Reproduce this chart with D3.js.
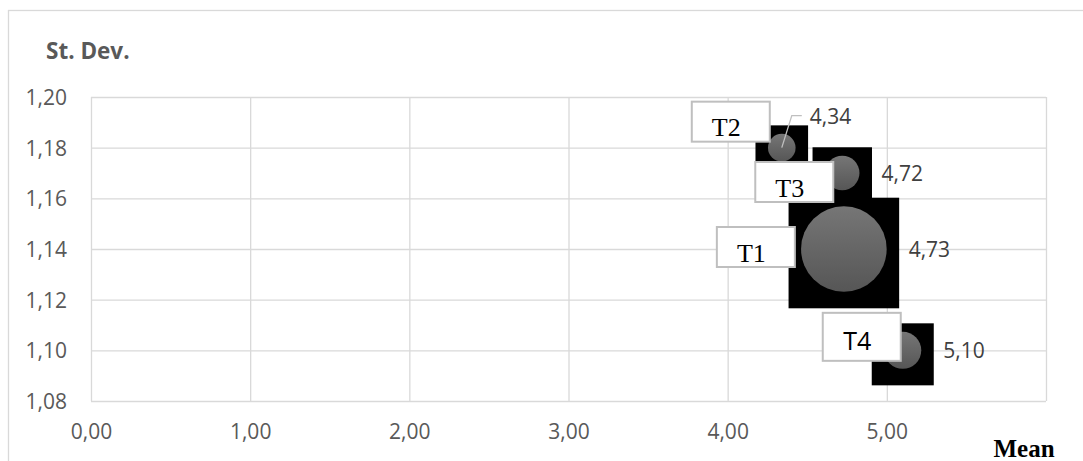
<!DOCTYPE html>
<html>
<head>
<meta charset="utf-8">
<script src="https://cdn.jsdelivr.net/npm/d3@7"></script>
<style>
  html, body { margin: 0; padding: 0; background: #fff; }
  svg { display: block; }
</style>
</head>
<body>
<svg id="chart" width="1083" height="461"></svg>
<script>
// ---- data ----
const names = ["T1", "T2", "T3", "T4"];
const means = [4.73, 4.34, 4.72, 5.10];
const stdevs = [1.14, 1.18, 1.17, 1.10];
const sizes = [100, 10.4, 16.2, 18.7];
const valueLabels = ["4,73", "4,34", "4,72", "5,10"];
const xTickValues = [0, 1, 2, 3, 4, 5, 6];
const xTickLabels = ["0,00", "1,00", "2,00", "3,00", "4,00", "5,00", ""];
const yTickValues = [1.08, 1.10, 1.12, 1.14, 1.16, 1.18, 1.20];
const yTickLabels = ["1,08", "1,10", "1,12", "1,14", "1,16", "1,18", "1,20"];

// ---- layout (label box offsets relative to bubble centre) ----
const labelLayout = {
  T1: { dx: -88, dy: -2, h: 40, serif: true },
  T2: { dx: -51, dy: -26, h: 40, serif: true },
  T3: { dx: -48, dy: 9, h: 40, serif: true },
  T4: { dx: -41, dy: -13.5, h: 48, serif: false }
};

const svg = d3.select("#chart");
const plot = { left: 91, right: 1046, top: 97, bottom: 401 };

const x = d3.scaleLinear().domain([0, 6]).range([plot.left, plot.right]);
const y = d3.scaleLinear().domain([1.08, 1.20]).range([plot.bottom, plot.top]);
const r = d3.scaleSqrt().domain([0, d3.max(sizes)]).range([0, 42.8]);

const sans = "'Open Sans', 'Liberation Sans', sans-serif";
const serif = "'Liberation Serif', 'Times New Roman', serif";
const grid = "#d9d9d9";
const txt = "#595959";
const fs = 21;

// outer chart border
svg.append("rect").attr("x", 8.5).attr("y", 10.5).attr("width", 1200).attr("height", 600)
  .attr("fill", "#fff").attr("stroke", grid).attr("stroke-width", 1.3);

const defs = svg.append("defs");
const grad = defs.append("linearGradient").attr("id", "bub").attr("x1", 0).attr("y1", 0).attr("x2", 0).attr("y2", 1);
grad.append("stop").attr("offset", "0%").attr("stop-color", "#767676");
grad.append("stop").attr("offset", "100%").attr("stop-color", "#565656");

// gridlines via axes
const xGrid = d3.axisBottom(x).tickValues(xTickValues).tickSize(-(plot.bottom - plot.top)).tickFormat("");
const yGrid = d3.axisLeft(y).tickValues(yTickValues).tickSize(-(plot.right - plot.left)).tickFormat("");
svg.append("g").attr("transform", `translate(0,${plot.bottom})`).call(xGrid)
  .call(g => g.select(".domain").remove())
  .call(g => g.selectAll("line").attr("stroke", grid).attr("stroke-width", 1.3));
svg.append("g").attr("transform", `translate(${plot.left},0)`).call(yGrid)
  .call(g => g.select(".domain").remove())
  .call(g => g.selectAll("line").attr("stroke", grid).attr("stroke-width", 1.3));

// tick labels via axes
const xAxis = d3.axisBottom(x).tickValues(xTickValues).tickSize(0)
  .tickFormat((d, i) => xTickLabels[i]);
svg.append("g").attr("transform", `translate(0,${plot.bottom})`).call(xAxis)
  .call(g => g.select(".domain").remove())
  .call(g => g.selectAll("text").attr("font-family", sans).attr("font-size", fs)
    .attr("fill", txt).attr("dy", null).attr("y", 38));
const yAxis = d3.axisLeft(y).tickValues(yTickValues).tickSize(0)
  .tickFormat((d, i) => yTickLabels[i]);
svg.append("g").attr("transform", `translate(${plot.left},0)`).call(yAxis)
  .call(g => g.select(".domain").remove())
  .call(g => g.selectAll("text").attr("font-family", sans).attr("font-size", fs)
    .attr("fill", txt).attr("x", -24).attr("dy", "0.35em"));

// axis titles
svg.append("text").attr("x", 46).attr("y", 59).text("St. Dev.")
  .attr("font-family", sans).attr("font-weight", "bold").attr("font-size", 22.5).attr("fill", txt);
svg.append("text").attr("x", 1024).attr("y", 457).attr("text-anchor", "middle").text("Mean")
  .attr("font-family", serif).attr("font-weight", "bold").attr("font-size", 25).attr("fill", "#000");

const pts = names.map((n, i) => ({ name: n, mx: means[i], sd: stdevs[i], size: sizes[i], vl: valueLabels[i] }));

// black bounding squares
svg.append("g").selectAll("rect").data(pts).join("rect")
  .attr("x", d => x(d.mx) - r(d.size) - 12.5)
  .attr("y", d => y(d.sd) - r(d.size) - 12.5 + 4)
  .attr("width", d => 2 * r(d.size) + 25)
  .attr("height", d => 2 * r(d.size) + 25)
  .attr("fill", "#000");

// bubbles
svg.append("g").selectAll("circle").data(pts).join("circle")
  .attr("cx", d => x(d.mx)).attr("cy", d => y(d.sd)).attr("r", d => r(d.size))
  .attr("fill", "url(#bub)");

// value labels
pts.forEach(d => {
  const cx = x(d.mx), cy = y(d.sd), rr = r(d.size);
  if (d.name === "T2") {
    svg.append("path")
      .attr("d", `M${cx},${cy} L${cx + 10},${cy - 32} L${cx + 20},${cy - 32}`)
      .attr("fill", "none").attr("stroke", "#bfbfbf").attr("stroke-width", 1.3);
    svg.append("text").attr("x", cx + 28).attr("y", cy - 24).text(d.vl)
      .attr("font-family", sans).attr("font-size", fs).attr("fill", "#404040");
  } else {
    svg.append("text").attr("x", cx + rr + 22).attr("y", cy + 8).text(d.vl)
      .attr("font-family", sans).attr("font-size", fs).attr("fill", "#404040");
  }
});

// name label boxes
pts.forEach(d => {
  const L = labelLayout[d.name];
  const bx = x(d.mx) + L.dx, by = y(d.sd) + L.dy;
  const bw = 78;
  svg.append("rect").attr("x", bx - bw / 2).attr("y", by - L.h / 2).attr("width", bw).attr("height", L.h)
    .attr("fill", "#fff").attr("stroke", "#bfbfbf").attr("stroke-width", 2);
  svg.append("text").attr("x", bx - 4.5).attr("y", by + (L.serif ? 14.5 : 13)).attr("text-anchor", "middle")
    .text(d.name)
    .attr("font-family", L.serif ? serif : sans)
    .attr("font-size", L.serif ? 26 : 25)
    .attr("fill", "#000");
});
</script>
</body>
</html>
